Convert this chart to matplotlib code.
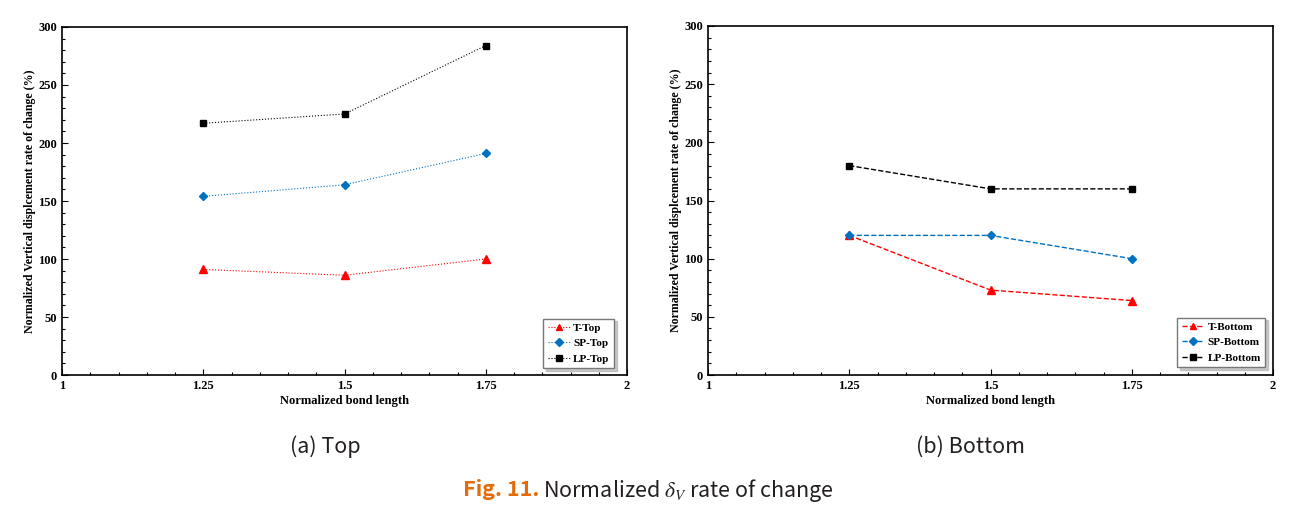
import matplotlib.pyplot as plt
from matplotlib.ticker import MultipleLocator

# data
bond_length = [1.25, 1.5, 1.75]
t_top = [91, 86, 100]
sp_top = [154, 164, 191]
lp_top = [217, 225, 284]
t_bottom = [120, 73, 64]
sp_bottom = [120, 120, 100]
lp_bottom = [180, 160, 160]

plt.rcParams['mathtext.fontset'] = 'stix'
serif = 'Liberation Serif'
cap_font = ['Noto Sans CJK KR', 'DejaVu Sans']
red = '#FF0000'
blue = '#0070C0'
black = '#000000'

fig = plt.figure(figsize=(12.91, 5.15), dpi=100)
ax1 = fig.add_axes([62 / 1291, 1 - 375 / 515, 565 / 1291, 348 / 515])
ax2 = fig.add_axes([708 / 1291, 1 - 375 / 515, 565 / 1291, 349 / 515])


def setup(ax):
    ax.set_xlim(1, 2)
    ax.set_ylim(0, 300)
    ax.xaxis.set_minor_locator(MultipleLocator(0.05))
    ax.yaxis.set_major_locator(MultipleLocator(50))
    ax.yaxis.set_minor_locator(MultipleLocator(10))
    ax.set_xticks([1, 1.25, 1.5, 1.75, 2])
    ax.set_xticklabels(['1', '1.25', '1.5', '1.75', '2'])
    ax.tick_params(which='both', direction='in', top=False, right=False,
                   labelsize=9, width=0.8)
    ax.tick_params(which='major', length=4)
    ax.tick_params(which='minor', length=2.5)
    for lab in ax.get_xticklabels() + ax.get_yticklabels():
        lab.set_fontfamily(serif)
        lab.set_fontweight('bold')
    for sp in ax.spines.values():
        sp.set_linewidth(1.2)
    ax.set_xlabel('Normalized bond length', fontfamily=serif,
                  fontweight='bold', fontsize=9, labelpad=2)
    ax.set_ylabel('Normalized Vertical displcement rate of change (%)',
                  fontfamily=serif, fontweight='bold', fontsize=8.6, labelpad=2)


legend_kw = dict(loc='lower right', shadow={'color': '#999999', 'alpha': 0.5},
                 fancybox=False, prop={'family': serif, 'weight': 'bold', 'size': 8},
                 handlelength=2.0, handletextpad=0.3, borderpad=0.4,
                 labelspacing=0.5, borderaxespad=0, edgecolor='#777777',
                 markerscale=0.8)

# (a) Top
ax1.plot(bond_length, t_top, ':', color=red, lw=0.8, marker='^', ms=6, label='T-Top')
ax1.plot(bond_length, sp_top, ':', color=blue, lw=0.8, marker='D', ms=4.5, label='SP-Top')
ax1.plot(bond_length, lp_top, ':', color=black, lw=0.8, marker='s', ms=5, label='LP-Top')
setup(ax1)
ax1.legend(bbox_to_anchor=(0.977, 0.02), **legend_kw)

# (b) Bottom
ax2.plot(bond_length, t_bottom, '--', color=red, lw=1.0, marker='^', ms=6, label='T-Bottom')
ax2.plot(bond_length, sp_bottom, '--', color=blue, lw=1.0, marker='D', ms=4.5, label='SP-Bottom')
ax2.plot(bond_length, lp_bottom, '--', color=black, lw=1.0, marker='s', ms=5, label='LP-Bottom')
setup(ax2)
ax2.legend(bbox_to_anchor=(0.986, 0.023), **legend_kw)

# captions
fig.text(325 / 1291, 1 - 447 / 515, '(a) Top', fontfamily=cap_font,
         fontsize=15.5, ha='center', va='center', color='#231F20')
fig.text(970 / 1291, 1 - 447 / 515, '(b) Bottom', fontfamily=cap_font,
         fontsize=15.5, ha='center', va='center', color='#231F20')
fig.text(539 / 1291, 1 - 490 / 515, 'Fig. 11.', fontfamily=cap_font,
         fontweight='bold', fontsize=15.5, ha='right', va='center', color='#E36C0A')
fig.text(543 / 1291, 1 - 490 / 515, r'Normalized $\delta_V$ rate of change',
         fontfamily=cap_font, fontsize=15.5, ha='left', va='center', color='#231F20')

plt.savefig('out.png', dpi=100)
